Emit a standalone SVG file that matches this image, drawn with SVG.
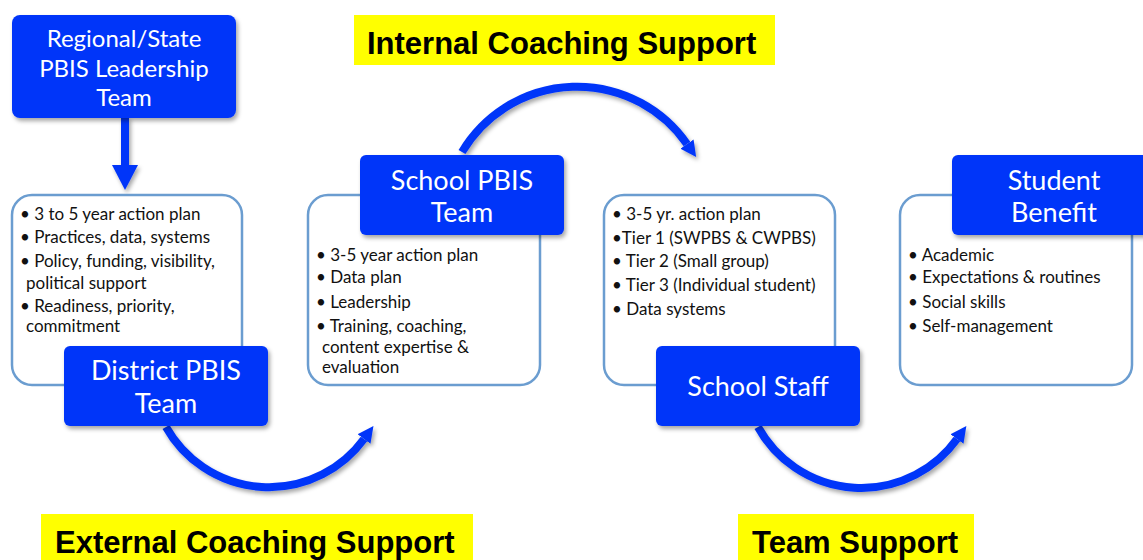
<svg xmlns="http://www.w3.org/2000/svg" width="1143" height="560" viewBox="0 0 1143 560">
<defs>
<filter id="sh" x="-10%" y="-10%" width="130%" height="140%">
<feDropShadow dx="2" dy="3" stdDeviation="2" flood-color="#000" flood-opacity="0.35"/>
</filter>
<marker id="ah" viewBox="0 0 16 16" refX="0" refY="8" markerWidth="16" markerHeight="16" markerUnits="userSpaceOnUse" orient="auto">
<path d="M0,0 L16,8 L0,16 z" fill="#0536f9"/>
</marker>
<style>
.out{fill:#fff;stroke:#6b9dd0;stroke-width:2.5}
.blue{fill:#0536f9;filter:url(#sh)}
.bt{font-family:Lato,"Open Sans",sans-serif;font-size:27px;fill:#fff;text-anchor:middle}
.bt.sm{font-size:24px}
.body{font-family:Lato,"Open Sans",sans-serif;font-size:17px;fill:#111}
.ylw{fill:#ffff00}
.lbl{font-family:"Liberation Sans",Arial,sans-serif;font-weight:bold;font-size:31px;fill:#000}
.arc{fill:none;stroke:#0536f9;stroke-width:8;marker-end:url(#ah);filter:url(#sh)}
</style>
</defs>
<g id="labels">
<rect class="ylw" x="354" y="15" width="421" height="50"/>
<text class="lbl" x="367" y="54">Internal Coaching Support</text>
<rect class="ylw" x="41" y="514" width="432" height="46"/>
<text class="lbl" x="55" y="553">External Coaching Support</text>
<rect class="ylw" x="738" y="514" width="236" height="46"/>
<text class="lbl" x="752" y="553">Team Support</text>
</g>
<g id="connectors">
<g filter="url(#sh)">
<rect x="121" y="117" width="8" height="50" fill="#0536f9"/>
<path d="M112,165 L138,165 L125,190 z" fill="#0536f9"/>
</g>
<path class="arc" d="M166 427 A118 118 0 0 0 364 439"/>
<path class="arc" d="M462 152 A134 134 0 0 1 687 144"/>
<path class="arc" d="M758 427 A118 118 0 0 0 957 439"/>
</g>
<g id="regional">
<rect class="blue" x="12" y="15" width="224" height="103" rx="8"/>
<text class="bt sm" x="124" y="47">Regional/State</text>
<text class="bt sm" x="124" y="76.5">PBIS Leadership</text>
<text class="bt sm" x="124" y="106">Team</text>
</g>
<g id="district">
<rect class="out" x="12" y="195" width="230" height="190" rx="20"/>
<text class="body" x="20" y="220">• 3 to 5 year action plan</text>
<text class="body" x="20" y="243">• Practices, data, systems</text>
<text class="body" x="20" y="267">• Policy, funding, visibility,</text>
<text class="body" x="26" y="289">political support</text>
<text class="body" x="20" y="312">• Readiness, priority,</text>
<text class="body" x="26" y="332">commitment</text>
<rect class="blue" x="64" y="346" width="204" height="80" rx="6"/>
<text class="bt" x="166" y="380">District PBIS</text>
<text class="bt" x="166" y="413">Team</text>
</g>
<g id="school-team">
<rect class="out" x="308" y="195" width="232" height="190" rx="20"/>
<rect class="blue" x="360" y="155" width="204" height="80" rx="6"/>
<text class="bt" x="462" y="190">School PBIS</text>
<text class="bt" x="462" y="222">Team</text>
<text class="body" x="316" y="261">• 3-5 year action plan</text>
<text class="body" x="316" y="283">• Data plan</text>
<text class="body" x="316" y="308">• Leadership</text>
<text class="body" x="316" y="332">• Training, coaching,</text>
<text class="body" x="322" y="353">content expertise &amp;</text>
<text class="body" x="322" y="373">evaluation</text>
</g>
<g id="school-staff">
<rect class="out" x="604" y="195" width="231" height="190" rx="20"/>
<text class="body" x="612" y="220">• 3-5 yr. action plan</text>
<text class="body" x="612" y="244">•Tier 1 (SWPBS &amp; CWPBS)</text>
<text class="body" x="612" y="267">• Tier 2 (Small group)</text>
<text class="body" x="612" y="291">• Tier 3 (Individual student)</text>
<text class="body" x="612" y="315">• Data systems</text>
<rect class="blue" x="656" y="346" width="204" height="80" rx="6"/>
<text class="bt" x="758" y="396">School Staff</text>
</g>
<g id="student">
<rect class="out" x="900" y="195" width="232" height="190" rx="20"/>
<rect class="blue" x="952" y="155" width="200" height="80" rx="6"/>
<text class="bt" x="1054" y="190">Student</text>
<text class="bt" x="1054" y="222">Benefit</text>
<text class="body" x="908" y="261">• Academic</text>
<text class="body" x="908" y="283">• Expectations &amp; routines</text>
<text class="body" x="908" y="308">• Social skills</text>
<text class="body" x="908" y="332">• Self-management</text>
</g>
</svg>
